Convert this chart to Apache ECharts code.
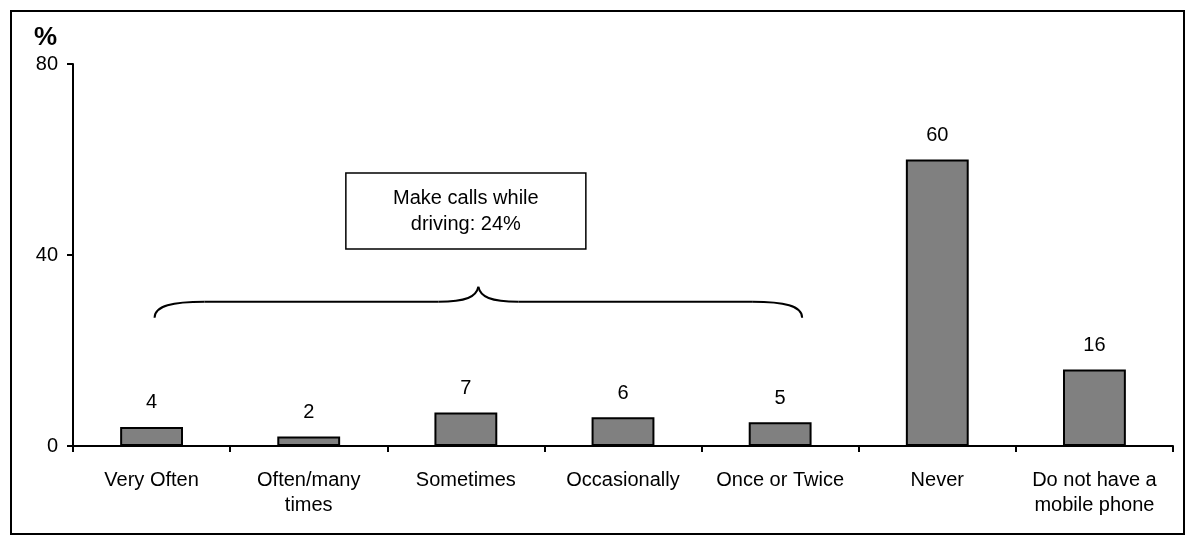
<!DOCTYPE html>
<html>
<head>
<meta charset="utf-8">
<script src="https://cdn.jsdelivr.net/npm/echarts@6/dist/echarts.min.js"></script>
<style>
html,body{margin:0;padding:0;background:#fff;}
#chart{width:1189px;height:536px;}
</style>
</head>
<body>
<div id="chart"></div>
<script>
var categories = ['Very Often', 'Often/many\ntimes', 'Sometimes', 'Occasionally', 'Once or Twice', 'Never', 'Do not have a\nmobile phone'];
var values = [4, 2, 7, 6, 5, 60, 16];
var yTicks = [0, 40, 80];
var unitLabel = '%';
var noteText = 'Make calls while\ndriving: 24%';

var FONT = 'Liberation Sans';
var FS = 20;
var chart = echarts.init(document.getElementById('chart'));
var option = {
  animation: false,
  backgroundColor: '#ffffff',
  title: {
    text: unitLabel,
    left: 29, top: 20,
    textStyle: {fontFamily: FONT, fontWeight: 'bold', fontSize: 26, color: '#000'}
  },
  grid: {left: 73, right: 16, top: 64, bottom: 90, containLabel: false},
  xAxis: {
    type: 'category',
    data: categories,
    boundaryGap: true,
    axisLine: {lineStyle: {color: '#000', width: 2}},
    axisTick: {show: true, alignWithLabel: false, length: 6, inside: false, lineStyle: {color: '#000', width: 2}},
    axisLabel: {interval: 0, margin: 22, color: '#000', fontFamily: FONT, fontSize: FS, lineHeight: 25}
  },
  yAxis: {
    type: 'value',
    min: yTicks[0], max: yTicks[yTicks.length - 1], interval: 40,
    splitLine: {show: false},
    axisLine: {show: true, lineStyle: {color: '#000', width: 2}},
    axisTick: {show: true, length: 6, lineStyle: {color: '#000', width: 2}},
    axisLabel: {margin: 15, color: '#000', fontFamily: FONT, fontSize: FS}
  },
  series: [{
    type: 'bar',
    data: values,
    barWidth: '40%',
    itemStyle: {color: '#808080', borderColor: '#000', borderWidth: 2},
    label: {show: true, position: 'top', distance: 14, color: '#000', fontFamily: FONT, fontSize: FS}
  }]
};
chart.setOption(option);

function px(cat, val) { return chart.convertToPixel({xAxisIndex: 0, yAxisIndex: 0}, [cat, val]); }
var c0 = px(categories[0], 0), c4 = px(categories[4], 0), c2 = px(categories[2], 49.2);
var yMid = px(categories[0], 30.2)[1];
var L = c0[0] + 3, R = c4[0] + 22, M = (L + R) / 2;
var yEnd = yMid + 16, yTip = yMid - 15;
var braceStyle = {fill: 'none', stroke: '#000', lineWidth: 2};
function bez(x1, y1, a, b, c, d, x2, y2) {
  return {type: 'bezierCurve', silent: true, style: braceStyle,
    shape: {x1: x1, y1: y1, cpx1: a, cpy1: b, cpx2: c, cpy2: d, x2: x2, y2: y2}};
}
function seg(x1, y1, x2, y2) {
  return {type: 'line', silent: true, style: braceStyle, shape: {x1: x1, y1: y1, x2: x2, y2: y2}};
}
var boxW = 240, boxH = 76;
chart.setOption({
  graphic: [
    {type: 'rect', silent: true, z: 100, shape: {x: 11, y: 11, width: 1173, height: 523}, style: {fill: 'none', stroke: '#000', lineWidth: 2}},
    bez(L, yEnd, L, yMid + 4, L + 18, yMid, L + 50, yMid),
    seg(L + 50, yMid, M - 40, yMid),
    bez(M - 40, yMid, M - 12, yMid, M - 2, yMid - 5, M, yTip),
    bez(M, yTip, M + 2, yMid - 5, M + 12, yMid, M + 40, yMid),
    seg(M + 40, yMid, R - 50, yMid),
    bez(R - 50, yMid, R - 18, yMid, R, yMid + 4, R, yEnd),
    {type: 'rect', silent: true, shape: {x: c2[0] - boxW / 2, y: c2[1] - boxH / 2, width: boxW, height: boxH}, style: {fill: '#fff', stroke: '#000', lineWidth: 1.5}},
    {type: 'text', silent: true, x: c2[0], y: c2[1], style: {text: noteText, fill: '#000', font: FS + 'px "Liberation Sans"', align: 'center', verticalAlign: 'middle', lineHeight: 26}}
  ]
});
</script>
</body>
</html>
